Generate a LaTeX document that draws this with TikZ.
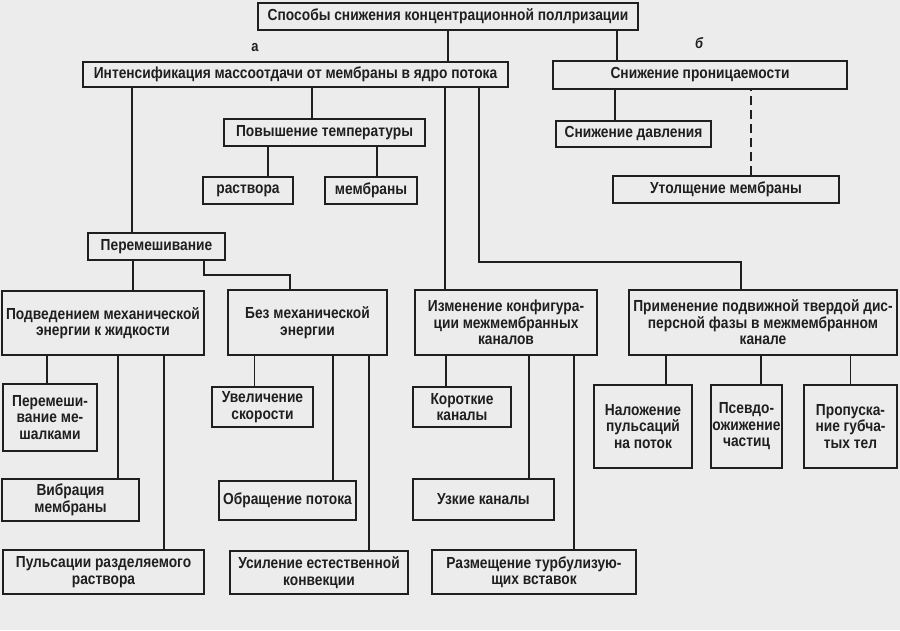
\documentclass[tikz,border=0pt]{standalone}
\usepackage{fontspec}
\setmainfont{Liberation Sans}[FakeStretch=0.86]
\usetikzlibrary{positioning}

\begin{document}
\begin{tikzpicture}[
    x=1pt, y=-1pt,
    block/.style={rectangle, draw=black!88, line width=1.8pt, inner sep=1pt, align=center, font=\fontsize{16}{16.5}\selectfont\bfseries, text=black!88},
    tag/.style={font=\fontsize{15}{16}\selectfont\bfseries, text=black!88},
    link/.style={draw=black!88, line width=1.9pt}
]
\useasboundingbox[fill=gray!15] (0,0) rectangle (900,630);

% Top level
\node[block, minimum width=380pt, minimum height=27pt] (root) at (448,16.5) {Способы снижения концентрационной поллризации};
\node[tag] (la) at (255,48) {а};
\node[tag, font=\fontsize{15}{16}\selectfont\bfseries\itshape] (lb) at (699,43) {б};
\node[block, minimum width=425pt, minimum height=25pt] (intens) at (295.5,74.5) {Интенсификация массоотдачи от мембраны в ядро потока};
\node[block, minimum width=294pt, minimum height=28pt] (snizh) at (700,75) {Снижение проницаемости};

% Branch b
\node[block, minimum width=155pt, minimum height=26pt] (davl) at (633.5,134) {Снижение давления};
\node[block, minimum width=226pt, minimum height=27pt] (utol) at (726,189.5) {Утолщение мембраны};

% Temperature
\node[block, minimum width=201pt, minimum height=27pt] (povysh) at (324.5,132.5) {Повышение температуры};
\node[block, minimum width=90pt, minimum height=27pt] (rastv) at (248,190.5) {раствора};
\node[block, minimum width=92pt, minimum height=27pt] (membr) at (371,190.5) {мембраны};

% Mixing
\node[block, minimum width=137pt, minimum height=27pt] (perem) at (156.5,246.5) {Перемешивание};
\node[block, minimum width=202pt, minimum height=64pt] (podv) at (103,323) {Подведением механической\\энергии к жидкости};
\node[block, minimum width=159pt, minimum height=65pt] (bez) at (307.5,322.5) {Без механической\\энергии};
\node[block, minimum width=94pt, minimum height=67pt] (meshalki) at (50,417.5) {Перемеши-\\вание ме-\\шалками};
\node[block, minimum width=137pt, minimum height=42pt] (vibr) at (70.5,500) {Вибрация\\мембраны};
\node[block, minimum width=201pt, minimum height=44pt] (puls) at (103.5,572) {Пульсации разделяемого\\раствора};
\node[block, minimum width=101pt, minimum height=40pt] (uvel) at (262.5,407) {Увеличение\\скорости};
\node[block, minimum width=137pt, minimum height=39pt] (obr) at (287.5,500.5) {Обращение потока};
\node[block, minimum width=178pt, minimum height=43pt] (usil) at (319,572.5) {Усиление естественной\\конвекции};

% Channel configuration
\node[block, minimum width=182pt, minimum height=65pt] (izm) at (506,322.5) {Изменение конфигура-\\ции межмембранных\\каналов};
\node[block, minimum width=98pt, minimum height=40pt] (korot) at (462,407) {Короткие\\каналы};
\node[block, minimum width=141pt, minimum height=41pt] (uzk) at (483.5,499.5) {Узкие каналы};
\node[block, minimum width=204pt, minimum height=44pt] (razm) at (534,572) {Размещение турбулизую-\\щих вставок};

% Solid dispersed phase
\node[block, minimum width=268pt, minimum height=65pt] (prim) at (763,322.5) {Применение подвижной твердой дис-\\персной фазы в межмембранном\\канале};
\node[block, minimum width=98pt, minimum height=83pt] (nalozh) at (643,426.5) {Наложение\\пульсаций\\на поток};
\node[block, minimum width=71pt, minimum height=83pt] (psevdo) at (746.5,426.5) {Псевдо-\\ожижение\\частиц};
\node[block, minimum width=93pt, minimum height=83pt] (propusk) at (850.5,426.5) {Пропуска-\\ние губча-\\тых тел};

% Connectors
\draw[link] (root.south) -- (root.south |- intens.north);
\draw[link] ([xshift=-22pt]root.south east) -- ([xshift=-22pt]root.south east |- snizh.north);

\draw[link] ([xshift=-18.5pt]davl.north) -- ([xshift=-18.5pt]davl.north |- snizh.south);
\draw[link, dash pattern=on 9pt off 5pt] ([xshift=25pt]utol.north) -- ([xshift=25pt]utol.north |- snizh.south);

\draw[link] ([xshift=45pt]perem.north west) -- ([xshift=45pt]perem.north west |- intens.south);
\draw[link] ([xshift=89pt]povysh.north west) -- ([xshift=89pt]povysh.north west |- intens.south);
\draw[link] ([xshift=31pt]izm.north west) -- ([xshift=31pt]izm.north west |- intens.south);
\draw[link] ([xshift=-30pt]intens.south east) -- ++(0,174) -| ([xshift=-22pt]prim.north);

\draw[link] ([xshift=20pt]rastv.north) -- ([xshift=20pt]rastv.north |- povysh.south);
\draw[link] ([xshift=6pt]membr.north) -- ([xshift=6pt]membr.north |- povysh.south);

\draw[link] ([xshift=30pt]podv.north) -- ([xshift=30pt]podv.north |- perem.south);
\draw[link] ([xshift=-22pt]perem.south east) -- ++(0,14) -| ([xshift=-17.5pt]bez.north);

\draw[link] ([xshift=-3pt]meshalki.north) -- ([xshift=-3pt]meshalki.north |- podv.south);
\draw[link] ([xshift=-22pt]vibr.north east) -- ([xshift=-22pt]vibr.north east |- podv.south);
\draw[link] ([xshift=-41pt]puls.north east) -- ([xshift=-41pt]puls.north east |- podv.south);

\draw[link] ([xshift=-8pt]uvel.north) -- ([xshift=-8pt]uvel.north |- bez.south);
\draw[link] ([xshift=-24pt]obr.north east) -- ([xshift=-24pt]obr.north east |- bez.south);
\draw[link] ([xshift=-40pt]usil.north east) -- ([xshift=-40pt]usil.north east |- bez.south);

\draw[link] ([xshift=34pt]korot.north west) -- ([xshift=34pt]korot.north west |- izm.south);
\draw[link] ([xshift=-26pt]uzk.north east) -- ([xshift=-26pt]uzk.north east |- izm.south);
\draw[link] ([xshift=-63pt]razm.north east) -- ([xshift=-63pt]razm.north east |- izm.south);

\draw[link] ([xshift=23pt]nalozh.north) -- ([xshift=23pt]nalozh.north |- prim.south);
\draw[link] ([xshift=14.5pt]psevdo.north) -- ([xshift=14.5pt]psevdo.north |- prim.south);
\draw[link] (propusk.north) -- (propusk.north |- prim.south);

\end{tikzpicture}
\end{document}
